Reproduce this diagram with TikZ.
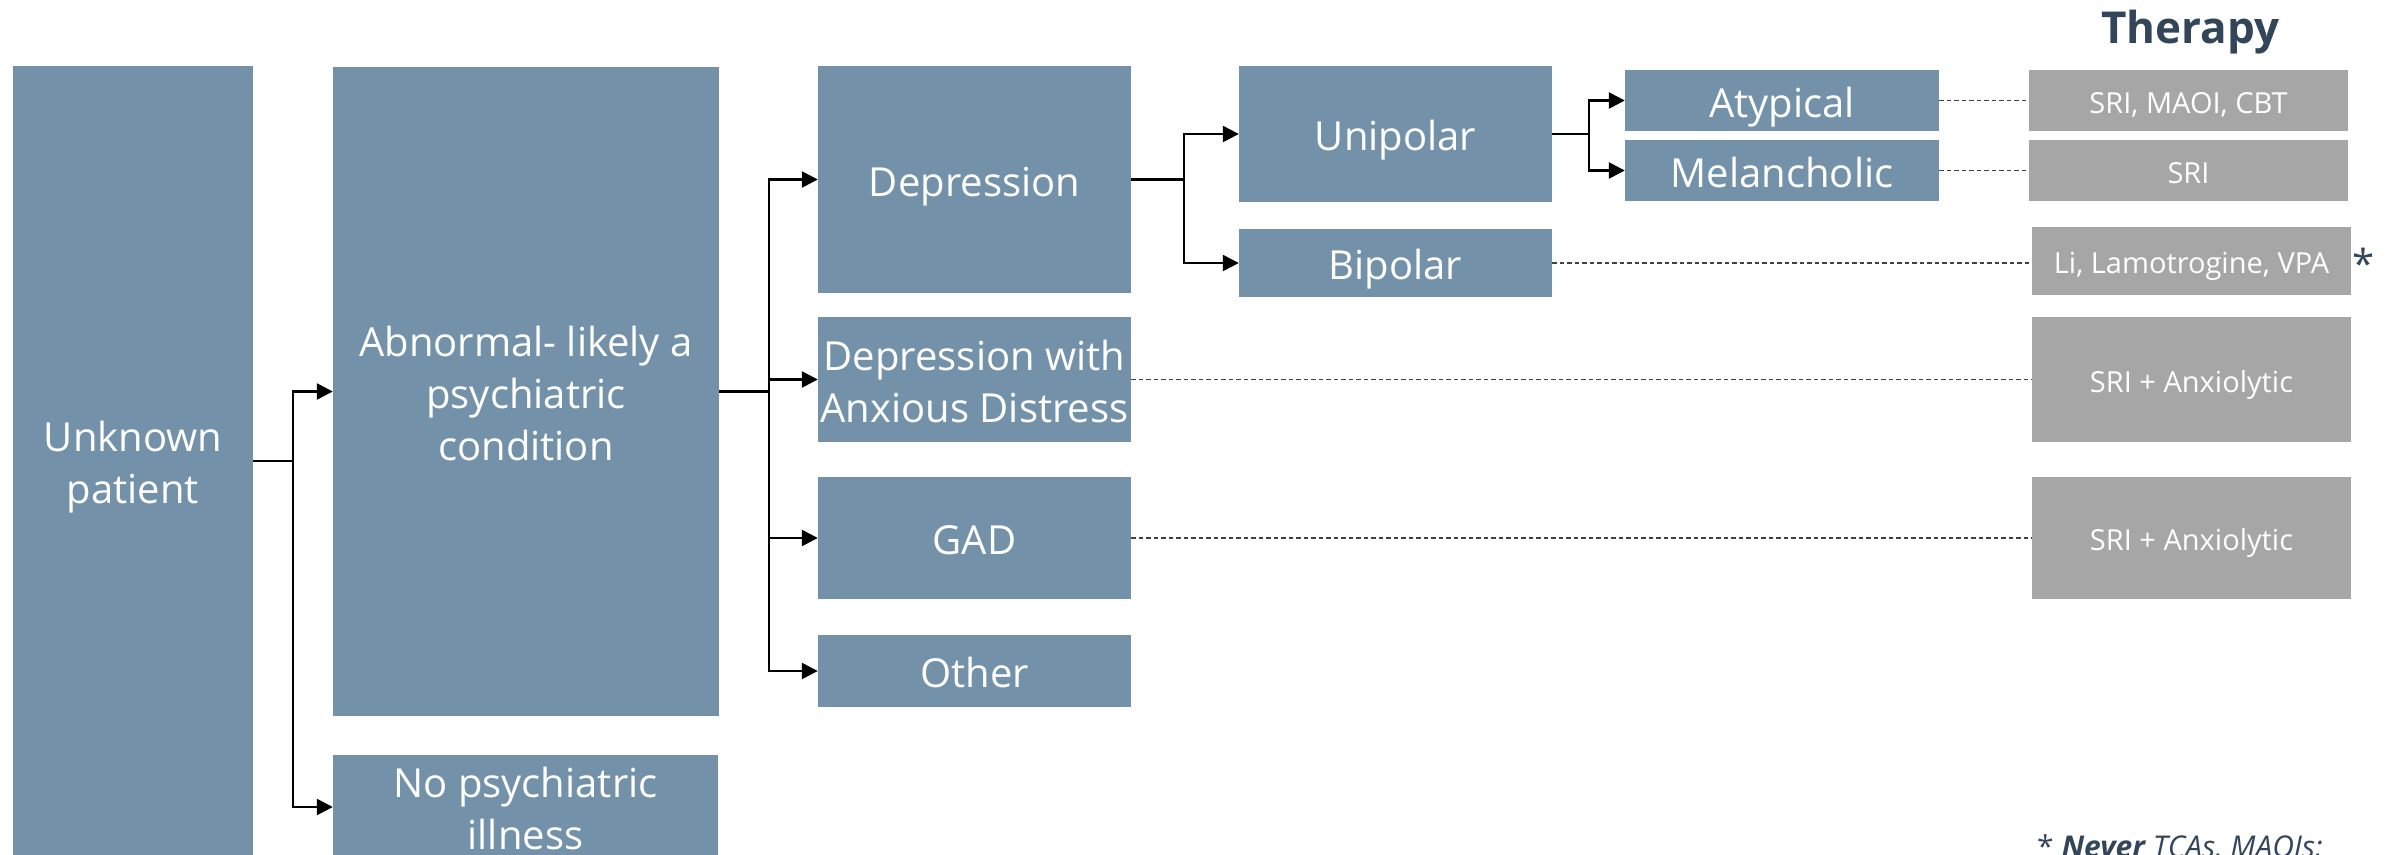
\documentclass[tikz,border=0pt]{standalone}
\usepackage{fontspec}
\setmainfont{Open Sans}
\usetikzlibrary{arrows.meta,calc}
\definecolor{boxblue}{RGB}{115,146,170}
\definecolor{boxgray}{RGB}{166,166,166}
\definecolor{slate}{RGB}{51,69,89}
\newcommand{\firstline}{\rule{0pt}{43pt}}

\begin{document}
\begin{tikzpicture}[x=1pt,y=-1pt,
  dx/.style={fill=boxblue,text=white,align=center,inner sep=0pt,font=\fontsize{40}{52}\selectfont,
    execute at begin node={\rule{0pt}{43pt}},execute at end node={\rule[-10pt]{0pt}{10pt}}},
  tx/.style={fill=boxgray,text=white,align=center,inner sep=0pt,font=\fontsize{29}{35}\selectfont,
    execute at begin node={\rule[-7pt]{0pt}{39pt}}},
  ln/.style={line width=2.5pt},
  arr/.style={line width=2.5pt,-{Triangle[length=16pt,width=16pt]}},
  dl/.style={line width=1.3pt,black!75,dash pattern=on 4.5pt off 3pt}]
\useasboundingbox (0,0) rectangle (2389,854);

% diagnosis boxes
\node[dx,minimum width=240pt,minimum height=790pt] (unk) at (133,461) {\firstline Unknown\\patient};
\node[dx,minimum width=386pt,minimum height=649pt] (abn) at (526,391.5) {\firstline Abnormal- likely a\\psychiatric\\condition};
\node[dx,minimum width=385pt,minimum height=104pt] (nopsy) at (525.5,807) {\firstline No psychiatric\\illness};
\node[dx,minimum width=313pt,minimum height=227pt] (dep) at (974.5,179.5) {Depression};
\node[dx,minimum width=313pt,minimum height=125pt] (depanx) at (974.5,379.5) {\firstline Depression with\\Anxious Distress};
\node[dx,minimum width=313pt,minimum height=122pt] (gad) at (974.5,538) {GAD};
\node[dx,minimum width=313pt,minimum height=72pt] (other) at (974.5,671) {Other};
\node[dx,minimum width=313pt,minimum height=136pt] (uni) at (1395.5,134) {Unipolar};
\node[dx,minimum width=313pt,minimum height=68pt] (bip) at (1395.5,263) {Bipolar};
\node[dx,minimum width=314pt,minimum height=61pt] (aty) at (1782,100.5) {Atypical};
\node[dx,minimum width=314pt,minimum height=61pt] (mel) at (1782,170.5) {Melancholic};

% therapy column
\node[font=\bfseries\fontsize{44}{50}\selectfont,text=slate,anchor=base] (ther) at (2190,43) {Therapy};
\node[tx,minimum width=319pt,minimum height=61pt] (t1) at (2188.5,100.5) {SRI, MAOI, CBT};
\node[tx,minimum width=319pt,minimum height=61pt] (t2) at (2188.5,170.5) {SRI};
\node[tx,minimum width=319pt,minimum height=68pt] (t3) at (2191.5,261) {Li, Lamotrogine, VPA};
\node[tx,minimum width=319pt,minimum height=125pt] (t4) at (2191.5,379.5) {SRI + Anxiolytic};
\node[tx,minimum width=319pt,minimum height=122pt] (t5) at (2191.5,538) {SRI + Anxiolytic};
\node[font=\fontsize{40}{40}\selectfont,text=slate,inner sep=0pt] (star) at (2364,263) {*};
\node[anchor=base west,inner sep=0pt,text=slate,font=\itshape\fontsize{30}{36}\selectfont] (note) at (2037,857) {{\upshape *} \textbf{Never} TCAs, MAOIs;};

% branching arrows
\coordinate (j1) at ($(unk.east)+(40,0)$);
\coordinate (j2) at ($(abn.east)+(50,0)$);
\coordinate (j3) at ($(dep.east)+(53,0)$);
\coordinate (j4) at ($(uni.east)+(37,0)$);
\draw[ln] (unk.east) -- (j1);
\draw[arr] (j1) |- (abn.west);
\draw[arr] (j1) |- (nopsy.west);
\draw[ln] (abn.east) -- (j2);
\draw[arr] (j2) |- (dep.west);
\draw[arr] (j2) |- (depanx.west);
\draw[arr] (j2) |- (gad.west);
\draw[arr] (j2) |- (other.west);
\draw[ln] (dep.east) -- (j3);
\draw[arr] (j3) |- (uni.west);
\draw[arr] (j3) |- (bip.west);
\draw[ln] (uni.east) -- (j4);
\draw[arr] (j4) |- (aty.west);
\draw[arr] (j4) |- (mel.west);

% dashed links to therapy
\draw[dl] (aty.east) -- (t1.west);
\draw[dl] (mel.east) -- (t2.west);
\draw[dl] (bip.east) -- (bip.east -| t3.west);
\draw[dl] (depanx.east) -- (t4.west);
\draw[dl] (gad.east) -- (t5.west);
\end{tikzpicture}
\end{document}
